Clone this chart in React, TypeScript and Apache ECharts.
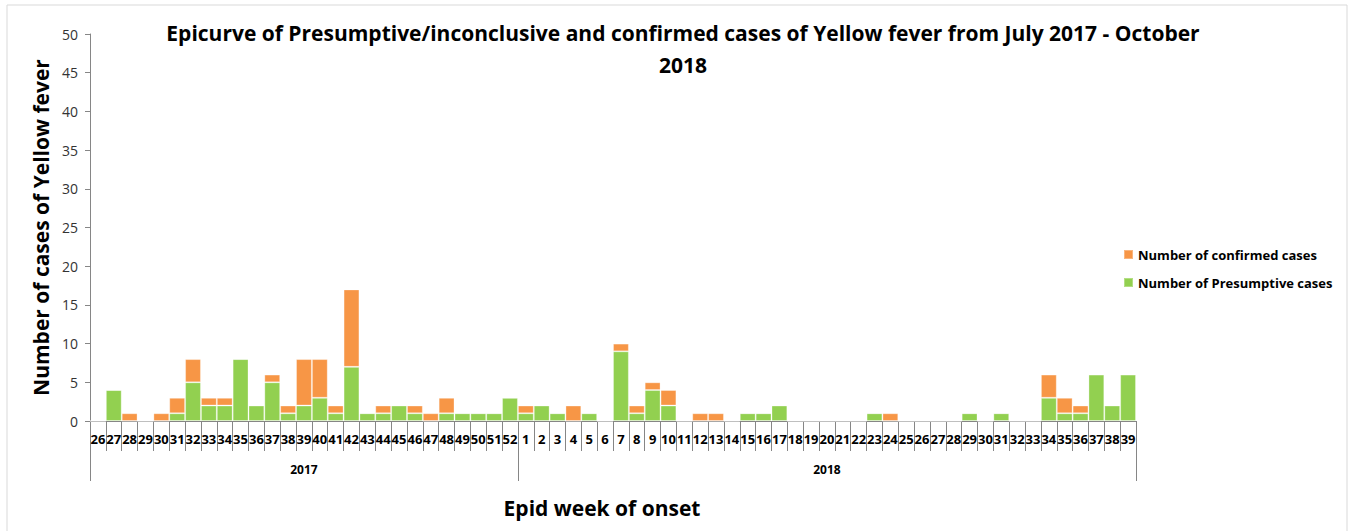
import React, { useEffect, useRef } from "react";
import * as echarts from "echarts";

const weeks2017 = ["26","27","28","29","30","31","32","33","34","35","36","37","38","39","40","41","42","43","44","45","46","47","48","49","50","51","52"];
const weeks2018 = ["1","2","3","4","5","6","7","8","9","10","11","12","13","14","15","16","17","18","19","20","21","22","23","24","25","26","27","28","29","30","31","32","33","34","35","36","37","38","39"];
const yearLabels = ["2017", "2018"];

const presumptive2017 = [0,4,0,0,0,1,5,2,2,8,2,5,1,2,3,1,7,1,1,2,1,0,1,1,1,1,3];
const confirmed2017 =   [0,0,1,0,1,2,3,1,1,0,0,1,1,6,5,1,10,0,1,0,1,1,2,0,0,0,0];
const presumptive2018 = [1,2,1,0,1,0,9,1,4,2,0,0,0,0,1,1,2,0,0,0,0,0,1,0,0,0,0,0,1,0,1,0,0,3,1,1,6,2,6];
const confirmed2018 =   [1,0,0,2,0,0,1,1,1,2,0,1,1,0,0,0,0,0,0,0,0,0,0,1,0,0,0,0,0,0,0,0,0,3,2,1,0,0,0];

const yTicks = { min: 0, max: 50, interval: 5 };

const FONT = "Open Sans";

export default function App() {
  const ref = useRef<HTMLDivElement>(null);
  useEffect(() => {
    if (!ref.current) return;
    const chart = echarts.init(ref.current, null, { renderer: "svg" });
    const weeks = [...weeks2017, ...weeks2018];
    const n2017 = weeks2017.length;
    const n2018 = weeks2018.length;
    const mid2017 = Math.floor(n2017 / 2);
    const mid2018 = n2017 + Math.floor(n2018 / 2);
    const yearAxisData = weeks.map((_, i) =>
      i === mid2017 ? yearLabels[0] : i === mid2018 ? yearLabels[1] : ""
    );
    const presumptive = [...presumptive2017, ...presumptive2018];
    const confirmed = [...confirmed2017, ...confirmed2018];
    const axisGray = "#868686";

    chart.setOption({
      animation: false,
      backgroundColor: "#ffffff",
      textStyle: { fontFamily: FONT },
      title: {
        text: "Epicurve of Presumptive/inconclusive and confirmed cases of Yellow fever from July 2017 - October\n2018",
        left: 678,
        top: 12,
        textAlign: "center",
        textStyle: {
          fontFamily: FONT,
          fontSize: 21,
          fontWeight: "bold",
          color: "#000",
          lineHeight: 32,
        },
      },
      legend: {
        orient: "vertical",
        left: 1118,
        top: 243,
        itemWidth: 9,
        itemHeight: 9,
        itemGap: 15,
        icon: "rect",
        data: ["Number of confirmed cases", "Number of Presumptive cases"],
        textStyle: { fontFamily: FONT, fontSize: 13, fontWeight: "bold", color: "#000" },
      },
      grid: { left: 90, right: 215, top: 34, bottom: 110 },
      xAxis: [
        {
          type: "category",
          data: weeks,
          position: "bottom",
          axisLine: { lineStyle: { color: axisGray } },
          axisTick: { show: true, interval: 0, length: 30, alignWithLabel: false, lineStyle: { color: axisGray } },
          axisLabel: {
            interval: 0,
            margin: 11,
            hideOverlap: false,
            fontFamily: FONT,
            fontSize: 13,
            fontWeight: "bold",
            color: "#000",
          },
        },
        {
          type: "category",
          data: yearAxisData,
          position: "bottom",
          axisLine: { show: false },
          axisTick: {
            show: true,
            interval: (i: number) => i === 0 || i === n2017,
            length: 60,
            lineStyle: { color: axisGray },
          },
          axisLabel: {
            interval: (i: number) => i === mid2017 || i === mid2018,
            margin: 42,
            fontFamily: FONT,
            fontSize: 12,
            fontWeight: "bold",
            color: "#000",
          },
        },
      ],
      yAxis: {
        type: "value",
        ...yTicks,
        name: "Number of cases of Yellow fever",
        nameLocation: "middle",
        nameGap: 36,
        nameTextStyle: { fontFamily: FONT, fontSize: 21, fontWeight: "bold", color: "#000" },
        axisLine: { show: true, lineStyle: { color: axisGray } },
        axisTick: { show: true, length: 5, lineStyle: { color: axisGray } },
        splitLine: { show: false },
        axisLabel: { fontFamily: FONT, fontSize: 14, color: "#333", margin: 12 },
      },
      graphic: [
        {
          type: "rect",
          shape: { x: 7, y: 5, width: 1340, height: 600 },
          style: { fill: "none", stroke: "#d9d9d9", lineWidth: 1 },
          silent: true,
        },
        {
          type: "text",
          x: 602,
          y: 508,
          style: {
            text: "Epid week of onset",
            fontFamily: FONT,
            fontSize: 21,
            fontWeight: "bold",
            fill: "#000",
            textAlign: "center",
            textVerticalAlign: "middle",
          },
        },
      ],
      series: [
        {
          name: "Number of Presumptive cases",
          type: "bar",
          stack: "total",
          data: presumptive,
          barCategoryGap: "0%",
          itemStyle: { color: "#92D050", borderColor: "rgba(255,255,255,0.3)", borderWidth: 1 },
        },
        {
          name: "Number of confirmed cases",
          type: "bar",
          stack: "total",
          data: confirmed,
          barCategoryGap: "0%",
          itemStyle: { color: "#F79646", borderColor: "rgba(255,255,255,0.3)", borderWidth: 1 },
        },
      ],
    });
    return () => chart.dispose();
  }, []);
  return (
    <div
      ref={ref}
      style={{ position: "absolute", left: 0, top: 0, width: 1351, height: 531 }}
    />
  );
}
